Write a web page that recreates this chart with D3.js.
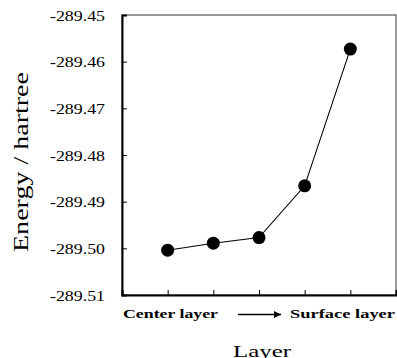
<!DOCTYPE html>
<html>
<head>
<meta charset="utf-8">
<script src="https://cdn.jsdelivr.net/npm/d3@7"></script>
<style>
  body { margin: 0; background: #fff; }
  text { font-family: "Liberation Serif", serif; fill: #000; }
</style>
</head>
<body>
<div class="viz"></div>
<script>
// layers from center (1) to surface (5)
const layers = [1, 2, 3, 4, 5]
const energies = [-289.5004, -289.4989, -289.4977, -289.4866, -289.4573]
const yTicks = [-289.51, -289.50, -289.49, -289.48, -289.47, -289.46, -289.45]

const width = 397
const height = 358
const margin = { top: 15, right: 1, bottom: 63, left: 122 }

const svg = d3.select('.viz')
  .append('svg')
    .attr('width', width)
    .attr('height', height)

const x = d3.scaleLinear().domain([0, 6]).range([margin.left, width - margin.right])
const y = d3.scaleLinear().domain([-289.51, -289.45]).range([height - margin.bottom, margin.top])

// frame: thin top / right
svg.append('rect')
  .attr('x', x(0)).attr('y', y(-289.45))
  .attr('width', x(6) - x(0)).attr('height', y(-289.51) - y(-289.45))
  .attr('fill', 'none').attr('stroke', '#333').attr('stroke-width', 1)

// left axis, ticks pointing inward
const yAxis = svg.append('g')
  .attr('transform', `translate(${x(0)},0)`)
  .call(d3.axisRight(y).tickValues(yTicks).tickSize(5).tickFormat(''))
yAxis.select('.domain').attr('stroke-width', 2)

svg.selectAll('.ylab')
  .data(yTicks).enter().append('text')
    .attr('class', 'ylab')
    .attr('x', 105)
    .attr('y', d => y(d) + 5.5)
    .attr('text-anchor', 'end')
    .attr('font-size', 14)
    .attr('textLength', 55)
    .attr('lengthAdjust', 'spacingAndGlyphs')
    .text(d => d.toFixed(2))

// bottom axis, ticks pointing up
const xAxis = svg.append('g')
  .attr('transform', `translate(0,${y(-289.51)})`)
  .call(d3.axisTop(x).tickValues(layers).tickSize(5).tickFormat(''))
xAxis.select('.domain').attr('stroke-width', 2)

// line + markers
const line = d3.line().x((d, i) => x(layers[i])).y(d => y(d))
svg.append('path')
  .datum(energies)
  .attr('d', line)
  .attr('fill', 'none')
  .attr('stroke', '#000')
  .attr('stroke-width', 1.1)

svg.selectAll('circle')
  .data(energies).enter().append('circle')
    .attr('cx', (d, i) => x(layers[i]))
    .attr('cy', d => y(d))
    .attr('r', 6.5)
    .attr('fill', '#000')

// bottom labels
svg.append('text')
  .attr('x', 123).attr('y', 318)
  .attr('font-size', 13).attr('font-weight', 'bold')
  .attr('textLength', 95).attr('lengthAdjust', 'spacingAndGlyphs')
  .text('Center layer')
svg.append('text')
  .attr('x', 290).attr('y', 318)
  .attr('font-size', 13).attr('font-weight', 'bold')
  .attr('textLength', 105).attr('lengthAdjust', 'spacingAndGlyphs')
  .text('Surface layer')

svg.append('defs').append('marker')
  .attr('id', 'arrow')
  .attr('viewBox', '0 0 10 10')
  .attr('refX', 10).attr('refY', 5)
  .attr('markerWidth', 9).attr('markerHeight', 7)
  .attr('markerUnits', 'userSpaceOnUse')
  .attr('orient', 'auto')
  .append('path').attr('d', 'M0,0L10,5L0,10Z').attr('fill', '#000')
svg.append('line')
  .attr('x1', 238).attr('x2', 281)
  .attr('y1', 314.5).attr('y2', 314.5)
  .attr('stroke', '#000').attr('stroke-width', 1.5)
  .attr('marker-end', 'url(#arrow)')

// axis titles
svg.append('text')
  .attr('x', 233).attr('y', 357)
  .attr('font-size', 16)
  .attr('textLength', 58).attr('lengthAdjust', 'spacingAndGlyphs')
  .text('Layer')
svg.append('text')
  .attr('transform', 'translate(28,162) rotate(-90)')
  .attr('text-anchor', 'middle')
  .attr('font-size', 22)
  .attr('textLength', 180).attr('lengthAdjust', 'spacingAndGlyphs')
  .text('Energy / hartree')
</script>
</body>
</html>
